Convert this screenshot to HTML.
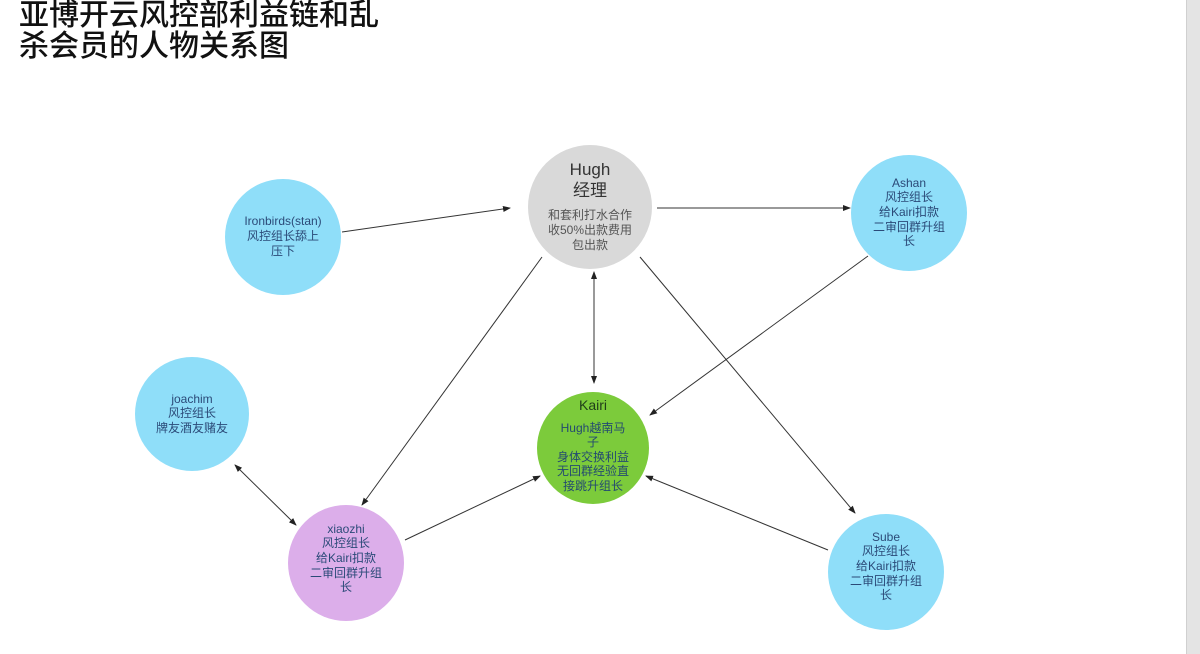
<!DOCTYPE html>
<html><head><meta charset="utf-8"><style>
body{margin:0;width:1200px;height:654px;background:#fff;overflow:hidden;position:relative;font-family:"Liberation Sans","Noto Sans CJK SC",sans-serif}
.t{position:absolute;left:19px;top:-3px;font-size:30px;line-height:31px;color:#111;font-weight:500;font-family:"Noto Sans CJK SC",sans-serif}
.bar{position:absolute;left:1186px;top:0;width:14px;height:654px;background:#e4e4e4;border-left:1px solid #d0d0d0}
svg{position:absolute;left:0;top:0}
svg text{font-family:"Liberation Sans","Noto Sans CJK SC",sans-serif;text-anchor:middle}
</style></head><body>
<div class="t">亚博开云风控部利益链和乱<br>杀会员的人物关系图</div>
<div class="bar"></div>
<svg width="1200" height="654">
<defs><marker id="a" markerWidth="8" markerHeight="8" refX="7" refY="4" orient="auto-start-reverse" markerUnits="userSpaceOnUse"><path d="M0,1 L8,4 L0,7z" fill="#222"/></marker></defs>
<g fill="#8fdef9"><circle cx="283" cy="237" r="58"/><circle cx="909" cy="213" r="58"/><circle cx="192" cy="414" r="57"/><circle cx="886" cy="572" r="58"/></g>
<circle cx="590" cy="207" r="62" fill="#d9d9d9"/>
<circle cx="593" cy="448" r="56" fill="#7ccb3b"/>
<circle cx="346" cy="563" r="58" fill="#dcaeea"/>
<g stroke="#333" stroke-width="1" fill="none">
<line x1="342" y1="232" x2="510" y2="208" marker-end="url(#a)"/>
<line x1="657" y1="208" x2="850" y2="208" marker-end="url(#a)"/>
<line x1="594" y1="272" x2="594" y2="383" marker-start="url(#a)" marker-end="url(#a)"/>
<line x1="542" y1="257" x2="362" y2="505" marker-end="url(#a)"/>
<line x1="640" y1="257" x2="855" y2="513" marker-end="url(#a)"/>
<line x1="868" y1="256" x2="650" y2="415" marker-end="url(#a)"/>
<line x1="235" y1="465" x2="296" y2="525" marker-start="url(#a)" marker-end="url(#a)"/>
<line x1="405" y1="540" x2="540" y2="476" marker-end="url(#a)"/>
<line x1="828" y1="550" x2="646" y2="476" marker-end="url(#a)"/>
</g>
<g font-size="12" fill="#2b4a78">
<text x="283" y="225">Ironbirds(stan)</text><text x="283" y="240">风控组长舔上</text><text x="283" y="255">压下</text>
<text x="909" y="187">Ashan</text><text x="909" y="201">风控组长</text><text x="909" y="216">给Kairi扣款</text><text x="909" y="231">二审回群升组</text><text x="909" y="245">长</text>
<text x="192" y="403">joachim</text><text x="192" y="417">风控组长</text><text x="192" y="432">牌友酒友赌友</text>
<text x="886" y="541">Sube</text><text x="886" y="555">风控组长</text><text x="886" y="570">给Kairi扣款</text><text x="886" y="585">二审回群升组</text><text x="886" y="599">长</text>
<text x="346" y="533">xiaozhi</text><text x="346" y="547">风控组长</text><text x="346" y="562">给Kairi扣款</text><text x="346" y="577">二审回群升组</text><text x="346" y="591">长</text>
</g>
<g fill="#333"><text x="590" y="175" font-size="17">Hugh</text><text x="590" y="196" font-size="17">经理</text></g>
<g font-size="12" fill="#555"><text x="590" y="219">和套利打水合作</text><text x="590" y="234">收50%出款费用</text><text x="590" y="249">包出款</text></g>
<g fill="#1f3d1a"><text x="593" y="410" font-size="14">Kairi</text></g>
<g font-size="12" fill="#244a70"><text x="593" y="432">Hugh越南马</text><text x="593" y="446">子</text><text x="593" y="461">身体交换利益</text><text x="593" y="475">无回群经验直</text><text x="593" y="490">接跳升组长</text></g>
</svg>
</body></html>
